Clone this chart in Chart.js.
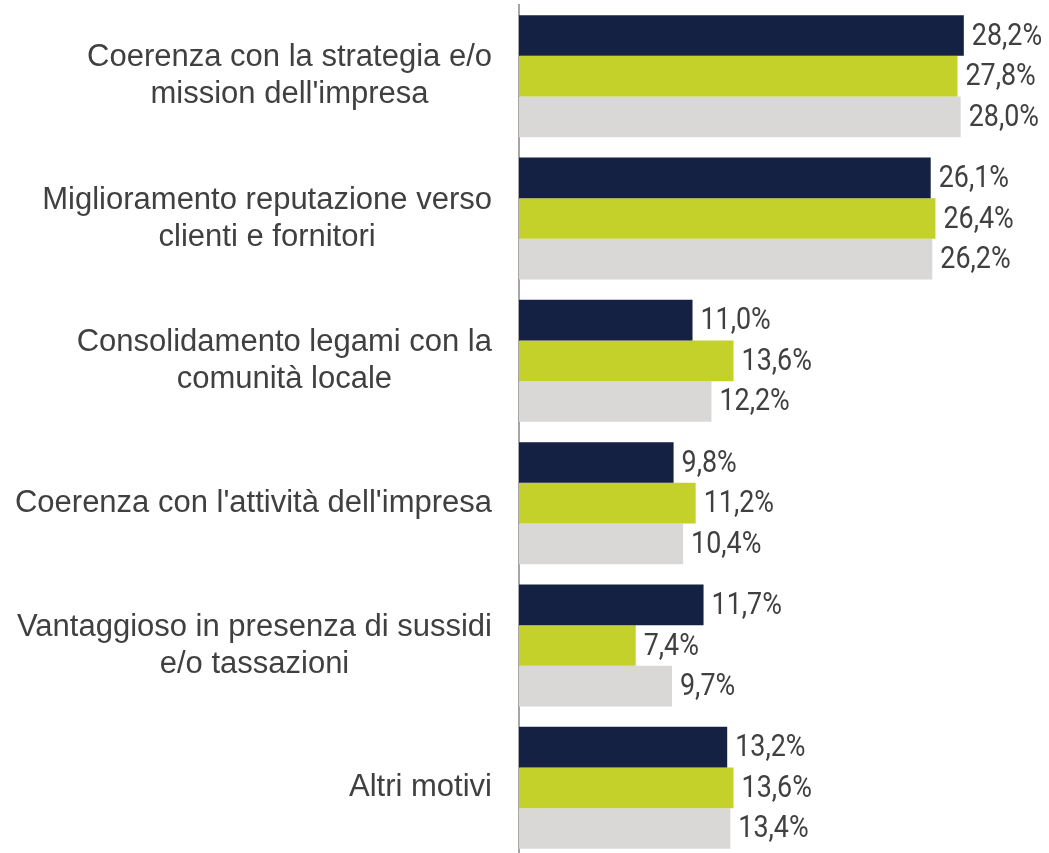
<!DOCTYPE html>
<html>
<head>
<meta charset="utf-8">
<script src="https://cdn.jsdelivr.net/npm/chart.js@4/dist/chart.umd.min.js"></script>
<style>
  html, body { margin: 0; padding: 0; background: #ffffff; overflow: hidden; }
  #wrap { position: relative; width: 1049px; height: 859px; }
</style>
</head>
<body>
<div id="wrap"><canvas id="chart"></canvas></div>
<script>
// Motivi (etichette su più righe)
const categories = [
  ["Coerenza con la strategia e/o", "mission dell'impresa"],
  ["Miglioramento reputazione verso", "clienti e fornitori"],
  ["Consolidamento legami con la", "comunità locale"],
  ["Coerenza con l'attività dell'impresa"],
  ["Vantaggioso in presenza di sussidi", "e/o tassazioni"],
  ["Altri motivi"]
];

// Percentuali per serie
const serieBlu = [28.2, 26.1, 11.0, 9.8, 11.7, 13.2];
const serieVerde = [27.8, 26.4, 13.6, 11.2, 7.4, 13.6];
const serieGrigia = [28.0, 26.2, 12.2, 10.4, 9.7, 13.4];

const colori = ['#152143', '#c4d12b', '#d9d8d7'];
const testo = '#404040';

const fmt = v => v.toFixed(1).replace('.', ',') + '%';

// Etichette di valore a destra delle barre, in carattere stretto (compresso in orizzontale)
const valueLabels = {
  id: 'valueLabels',
  afterDatasetsDraw(chart) {
    const ctx = chart.ctx;
    const sx = 0.84;
    ctx.save();
    ctx.font = '32px Roboto, "DejaVu Sans Condensed", sans-serif';
    ctx.fillStyle = testo;
    ctx.textAlign = 'left';
    ctx.textBaseline = 'middle';
    chart.data.datasets.forEach((ds, di) => {
      const meta = chart.getDatasetMeta(di);
      meta.data.forEach((el, i) => {
        ctx.save();
        ctx.translate(el.x + 8, el.y + 1);
        ctx.scale(sx, 1);
        ctx.fillText(fmt(ds.data[i]), 0, 0);
        ctx.restore();
      });
    });
    ctx.restore();
  }
};

// Etichette delle categorie: blocco allineato a destra, righe centrate tra loro
const categoryLabels = {
  id: 'categoryLabels',
  afterDraw(chart) {
    const ctx = chart.ctx;
    const y = chart.scales.y;
    const rightEdge = y.right - 27;
    const lineH = 37;
    ctx.save();
    ctx.font = '31px "Liberation Sans", Arial, sans-serif';
    ctx.fillStyle = testo;
    ctx.textAlign = 'center';
    ctx.textBaseline = 'middle';
    categories.forEach((lines, i) => {
      const cy = y.getPixelForTick(i);
      const w = Math.max(...lines.map(l => ctx.measureText(l).width));
      const cx = rightEdge - w / 2;
      lines.forEach((line, k) => {
        ctx.fillText(line, cx, cy + (k - (lines.length - 1) / 2) * lineH);
      });
    });
    ctx.restore();
  }
};

new Chart(document.getElementById('chart'), {
  type: 'bar',
  data: {
    labels: categories,
    datasets: [
      { data: serieBlu, backgroundColor: colori[0] },
      { data: serieVerde, backgroundColor: colori[1] },
      { data: serieGrigia, backgroundColor: colori[2] }
    ]
  },
  options: {
    indexAxis: 'y',
    responsive: true,
    maintainAspectRatio: false,
    animation: false,
    layout: { padding: { top: 5, right: 0, bottom: 0, left: 0 } },
    datasets: {
      bar: { categoryPercentage: 0.857, barPercentage: 1.0, borderWidth: 0 }
    },
    plugins: {
      legend: { display: false },
      tooltip: { enabled: false }
    },
    scales: {
      x: {
        min: 0,
        max: 33.6,
        display: false
      },
      y: {
        afterFit(scale) { scale.width = 519; },
        grid: { display: false, drawTicks: false },
        border: { display: true, color: '#a6a6a6', width: 2 },
        ticks: { display: false }
      }
    }
  },
  plugins: [valueLabels, categoryLabels]
});
</script>
</body>
</html>
